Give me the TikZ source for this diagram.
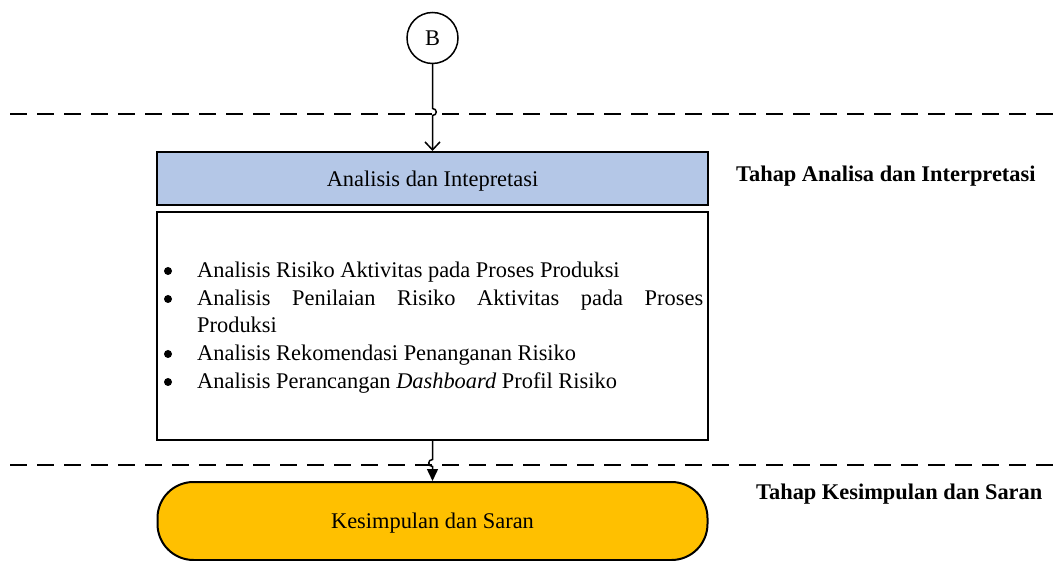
\documentclass[tikz,border=0pt]{standalone}
\usepackage{fontspec}
\setmainfont{Liberation Serif}
\usetikzlibrary{arrows.meta}
\definecolor{boxblue}{RGB}{180,199,231}
\definecolor{endyellow}{RGB}{255,192,0}

\begin{document}
\begin{tikzpicture}[x=1pt,y=-1pt,
  every node/.style={font=\fontsize{22.4}{27}\selectfont, inner sep=0pt},
  phasebox/.style={draw, line width=2pt, text depth=0pt},
  phaseline/.style={dash pattern=on 17pt off 10pt, line width=2pt},
  flow/.style={line width=1.5pt},
  stagelabel/.style={font=\fontsize{22.4}{27}\selectfont\bfseries, anchor=base west},
  itemtext/.style={anchor=base west},
  itembullet/.style={circle, fill=black, minimum size=8pt}]
\useasboundingbox (0,0) rectangle (1053,561);

% phase separators
\draw[phaseline] (10,114) -- (1053,114);
\draw[phaseline] (10,465) -- (1053,465);

% connector node and process blocks
\node[circle, draw, line width=1.5pt, minimum size=51pt, text depth=0pt] (B) at (432.5,38) {B};
\node[phasebox, fill=boxblue, minimum width=551pt, minimum height=53pt] (analisis) at (432.5,178.5) {Analisis dan Intepretasi};
\node[phasebox, minimum width=551pt, minimum height=228pt] (detail) at (432.5,326) {};
\node[phasebox, fill=endyellow, rounded corners=36pt, minimum width=550pt, minimum height=78pt] (kesimpulan) at (432.5,521) {Kesimpulan dan Saran};

% activity list
\foreach \y [count=\k] in {271,299,354,382}
  \node[itembullet] (bullet\k) at (168,\y) {};
\node[itemtext] (i1) at (197,278) {Analisis Risiko Aktivitas pada Proses Produksi};
\node[itemtext] (i2) at (197,306) {\makebox[506pt][s]{Analisis Penilaian Risiko Aktivitas pada Proses}};
\node[itemtext] (i2b) at (197,333) {Produksi};
\node[itemtext] (i3) at (197,361) {Analisis Rekomendasi Penanganan Risiko};
\node[itemtext] (i4) at (197,389) {Analisis Perancangan \textit{Dashboard} Profil Risiko};

% stage labels
\node[stagelabel] (tahapA) at (736,181.5) {Tahap Analisa dan Interpretasi};
\node[stagelabel] (tahapK) at (756,499) {Tahap Kesimpulan dan Saran};

% flow arrows, hopping over the separators
\coordinate (hopA1) at (432.5,108.5);
\coordinate (hopA2) at (432.5,115.5);
\coordinate (hopB1) at (432.5,459.5);
\coordinate (hopB2) at (432.5,466.5);
\draw[flow, -{Straight Barb[length=8pt,width=15pt]}]
  (B) -- (hopA1) .. controls +(5,0) and +(5,0) .. (hopA2) -- (analisis.north);
\draw[flow, -{Triangle[length=12pt,width=11pt]}]
  (detail.south) -- (hopB1) .. controls +(-5,0) and +(-5,0) .. (hopB2) -- (kesimpulan.north);
\end{tikzpicture}
\end{document}
